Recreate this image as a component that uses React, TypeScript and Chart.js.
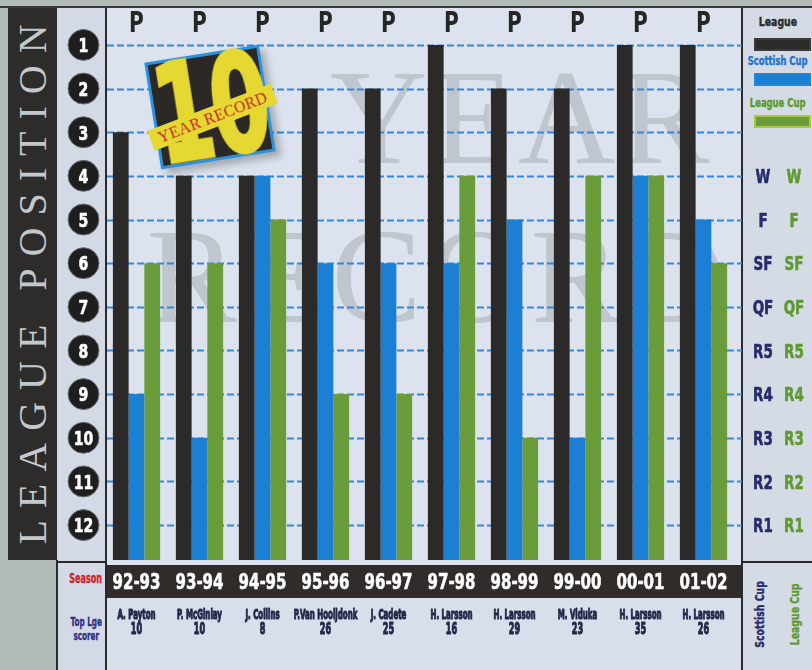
import { useEffect, useRef } from 'react';
import { Chart, registerables } from 'chart.js';

Chart.register(...registerables);

// ---------------- data ----------------
const SEASONS = ['92-93', '93-94', '94-95', '95-96', '96-97', '97-98', '98-99', '99-00', '00-01', '01-02'];
const DIVISION_MARKS = ['P', 'P', 'P', 'P', 'P', 'P', 'P', 'P', 'P', 'P'];
const LEAGUE_POSITION = [3, 4, 4, 2, 2, 1, 2, 2, 1, 1];
const POSITION_TICKS = [1, 2, 3, 4, 5, 6, 7, 8, 9, 10, 11, 12];
const CUP_ROUNDS = ['W', 'F', 'SF', 'QF', 'R5', 'R4', 'R3', 'R2', 'R1'];
const SCOTTISH_CUP = ['R4', 'R3', 'W', 'SF', 'SF', 'SF', 'F', 'R3', 'W', 'F'];
const LEAGUE_CUP = ['SF', 'SF', 'F', 'R4', 'R4', 'W', 'R3', 'W', 'W', 'SF'];
const TOP_SCORERS = ['A. Payton', 'P. McGinlay', 'J. Collins', 'P.Van Hooijdonk', 'J. Cadete', 'H. Larsson', 'H. Larsson', 'M. Viduka', 'H. Larsson', 'H. Larsson'];
const TOP_SCORER_GOALS = [10, 10, 8, 26, 25, 16, 29, 23, 35, 26];

// position row on which the cup "W" row sits
const FIRST_ROUND_ROW = 4;
const AXIS_TOP = 0.75;
const AXIS_BOTTOM = 12.8;

const roundRow = (r: string) => CUP_ROUNDS.indexOf(r) + FIRST_ROUND_ROW;

// ---------------- style ----------------
const COND = "'DejaVu Sans Condensed', 'DejaVu Sans', sans-serif";
const SERIF = "'Liberation Serif', 'DejaVu Serif', serif";
const LEAGUE_COLOR = '#2b2a29';
const SCOTTISH_COLOR = '#1b7fd3';
const LEAGUE_CUP_COLOR = '#6a9c3b';
const NAVY = '#262b6b';
const GREEN_TEXT = '#5e9a2f';
const OUTER = '#b2bdb8';
const GRID_BLUE = '#2f8ae0';

function drawCond(
  ctx: any,
  text: string,
  x: number,
  baseline: number,
  size: number,
  color: string,
  sx: number,
  stroke = 0,
) {
  ctx.save();
  ctx.translate(x, baseline);
  ctx.scale(sx, 1);
  ctx.font = `bold ${size}px ${COND}`;
  ctx.fillStyle = color;
  ctx.textAlign = 'center';
  ctx.textBaseline = 'alphabetic';
  ctx.fillText(text, 0, 0);
  if (stroke > 0) {
    ctx.strokeStyle = color;
    ctx.lineWidth = stroke;
    ctx.lineJoin = 'round';
    ctx.strokeText(text, 0, 0);
  }
  ctx.restore();
}

// dashed position rules across the whole plot box
const rulesPlugin = {
  id: 'positionRules',
  beforeDatasetsDraw(chart: any) {
    const { ctx, chartArea } = chart;
    const s = chart.scales.y;
    ctx.save();
    ctx.strokeStyle = GRID_BLUE;
    ctx.lineWidth = 1.8;
    ctx.setLineDash([7, 3]);
    POSITION_TICKS.forEach((p) => {
      const y = Math.round(s.getPixelForValue(p)) + 0.5;
      ctx.beginPath();
      ctx.moveTo(chartArea.left + 2, y);
      ctx.lineTo(chartArea.right + 7, y);
      ctx.stroke();
    });
    ctx.restore();
  },
};

// condensed axis labels, placed with the chart's own scales
const labelsPlugin = {
  id: 'condensedLabels',
  afterDraw(chart: any) {
    const ctx = chart.ctx;
    const { x, xScorer, xTop, y, yScottish, yLeagueCup } = chart.scales;

    // league position discs + numbers
    const cx = (y.left + y.right) / 2 + 2.5;
    POSITION_TICKS.forEach((p) => {
      const cy = y.getPixelForValue(p);
      ctx.save();
      ctx.beginPath();
      ctx.arc(cx, cy, 15.5, 0, Math.PI * 2);
      ctx.fillStyle = '#1f1e1e';
      ctx.fill();
      ctx.lineWidth = 1;
      ctx.strokeStyle = '#6d7078';
      ctx.stroke();
      ctx.restore();
      drawCond(ctx, String(p), cx, cy + 7.3, 20, '#ffffff', 0.78, 0.6);
    });

    // cup rounds
    CUP_ROUNDS.forEach((r, i) => {
      const cy = yScottish.getPixelForValue(i + FIRST_ROUND_ROW);
      drawCond(ctx, r, yScottish.left + 28, cy + 7.3, 20, NAVY, 0.75, 0.6);
      const cy2 = yLeagueCup.getPixelForValue(i + FIRST_ROUND_ROW);
      drawCond(ctx, r, yLeagueCup.left + 15, cy2 + 7.3, 20, GREEN_TEXT, 0.75, 0.6);
    });

    SEASONS.forEach((s, i) => {
      drawCond(ctx, s, x.getPixelForValue(i), x.top + 29, 22, '#ffffff', 0.76, 0.6);
    });
    DIVISION_MARKS.forEach((m, i) => {
      drawCond(ctx, m, xTop.getPixelForValue(i), xTop.bottom - 2, 28, '#262626', 0.8);
    });
    TOP_SCORERS.forEach((n, i) => {
      const px = xScorer.getPixelForValue(i);
      drawCond(ctx, n, px, xScorer.top + 20.5, 14, '#23284a', 0.56, 1.1);
      drawCond(ctx, String(TOP_SCORER_GOALS[i]), px, xScorer.top + 35.5, 15, '#23284a', 0.6, 1.1);
    });
  },
};

const hiddenGrid = { display: false, drawTicks: false };
const hiddenTicks = { display: false };

function buildConfig(): any {
  return {
    type: 'bar',
    data: {
      labels: SEASONS,
      datasets: [
        {
          label: 'League',
          data: LEAGUE_POSITION.map((p) => [p, AXIS_BOTTOM]),
          backgroundColor: LEAGUE_COLOR,
          xAxisID: 'x',
          yAxisID: 'y',
        },
        {
          label: 'Scottish Cup',
          data: SCOTTISH_CUP.map((r) => [roundRow(r), AXIS_BOTTOM]),
          backgroundColor: SCOTTISH_COLOR,
          xAxisID: 'x',
          yAxisID: 'y',
        },
        {
          label: 'League Cup',
          data: LEAGUE_CUP.map((r) => [roundRow(r), AXIS_BOTTOM]),
          backgroundColor: LEAGUE_CUP_COLOR,
          xAxisID: 'x',
          yAxisID: 'y',
        },
      ],
    },
    options: {
      responsive: false,
      animation: false,
      layout: { padding: 0 },
      datasets: { bar: { barPercentage: 1, categoryPercentage: 0.75, borderWidth: 0 } },
      plugins: { legend: { display: false }, tooltip: { enabled: false } },
      scales: {
        x: {
          type: 'category',
          position: 'bottom',
          weight: 1,
          offset: true,
          grid: hiddenGrid,
          border: { display: false },
          ticks: hiddenTicks,
          afterFit: (a: any) => {
            a.height = 38;
          },
        },
        xScorer: {
          type: 'category',
          position: 'bottom',
          weight: 2,
          offset: true,
          labels: TOP_SCORERS,
          grid: hiddenGrid,
          border: { display: false },
          ticks: hiddenTicks,
          afterFit: (a: any) => {
            a.height = 72;
          },
        },
        xTop: {
          type: 'category',
          position: 'top',
          weight: 1,
          offset: true,
          labels: DIVISION_MARKS,
          grid: hiddenGrid,
          border: { display: false },
          ticks: hiddenTicks,
          afterFit: (a: any) => {
            a.height = 34;
          },
        },
        y: {
          type: 'linear',
          position: 'left',
          reverse: true,
          min: AXIS_TOP,
          max: AXIS_BOTTOM,
          afterBuildTicks: (a: any) => {
            a.ticks = POSITION_TICKS.map((v) => ({ value: v }));
          },
          grid: hiddenGrid,
          border: { display: false },
          ticks: hiddenTicks,
          afterFit: (a: any) => {
            a.width = 48;
          },
        },
        yScottish: {
          type: 'linear',
          position: 'right',
          weight: 1,
          reverse: true,
          min: AXIS_TOP,
          max: AXIS_BOTTOM,
          afterBuildTicks: (a: any) => {
            a.ticks = CUP_ROUNDS.map((_r, i) => ({ value: i + FIRST_ROUND_ROW }));
          },
          grid: hiddenGrid,
          border: { display: false },
          ticks: hiddenTicks,
          afterFit: (a: any) => {
            a.width = 44;
          },
        },
        yLeagueCup: {
          type: 'linear',
          position: 'right',
          weight: 2,
          reverse: true,
          min: AXIS_TOP,
          max: AXIS_BOTTOM,
          afterBuildTicks: (a: any) => {
            a.ticks = CUP_ROUNDS.map((_r, i) => ({ value: i + FIRST_ROUND_ROW }));
          },
          grid: hiddenGrid,
          border: { display: false },
          ticks: hiddenTicks,
          afterFit: (a: any) => {
            a.width = 33;
          },
        },
      },
    },
    plugins: [rulesPlugin, labelsPlugin],
  };
}

const abs = (l: number, t: number, w: number, h: number, extra: any = {}) => ({
  position: 'absolute' as const,
  left: l,
  top: t,
  width: w,
  height: h,
  ...extra,
});

function CondText(props: {
  x: number;
  y: number;
  w: number;
  h: number;
  size: number;
  color: string;
  sx: number;
  rotate?: boolean;
  children: any;
}) {
  const { x, y, w, h, size, color, sx, rotate, children } = props;
  return (
    <div
      style={abs(x, y, w, h, {
        display: 'flex',
        alignItems: 'center',
        justifyContent: 'center',
        transform: rotate ? 'rotate(-90deg)' : undefined,
      })}
    >
      <span
        style={{
          display: 'inline-block',
          flexShrink: 0,
          transform: `scaleX(${sx})`,
          font: `bold ${size}px ${COND}`,
          color,
          whiteSpace: 'nowrap',
          lineHeight: 1.05,
          textAlign: 'center',
          WebkitTextStroke: `0.4px ${color}`,
        }}
      >
        {children}
      </span>
    </div>
  );
}

export default function App() {
  const ref = useRef<HTMLCanvasElement>(null);

  useEffect(() => {
    const chart = new Chart(ref.current as HTMLCanvasElement, buildConfig());
    return () => chart.destroy();
  }, []);

  const swatch = (top: number, color: string, border: string) => (
    <div style={abs(754, top, 57, 13, { background: color, boxSizing: 'border-box', border: `2px solid ${border}` })} />
  );

  return (
    <div style={abs(0, 0, 812, 670, { overflow: 'hidden', background: OUTER, fontFamily: COND })}>
      {/* left dark band with title */}
      <div style={abs(8, 8, 49, 552, { background: '#2e2c2b' })} />
      <div
        style={abs(8 + 24.5 - 276, 8 + 276 - 24.5, 552, 49, {
          transform: 'rotate(-90deg)',
          textAlign: 'center',
          lineHeight: '49px',
          font: `40px ${SERIF}`,
          letterSpacing: 12,
          paddingLeft: 12,
          boxSizing: 'border-box',
          color: '#c3c8cd',
          whiteSpace: 'nowrap',
        })}
      >
        LEAGUE POSITION
      </div>

      {/* number column */}
      <div style={abs(57, 8, 49, 662, { background: '#d4dae5' })} />
      <CondText x={61} y={571} w={50} h={14} size={14} color="#d0242c" sx={0.64}>
        Season
      </CondText>
      <CondText x={61} y={614} w={50} h={30} size={13} color="#2a2f86" sx={0.62}>
        Top Lge
        <br />
        scorer
      </CondText>

      {/* plot background with watermark */}
      <div style={abs(107, 8, 635, 557, { background: '#dde3ee', overflow: 'hidden' })}>
        <div
          style={abs(223, 40, 420, 140, {
            font: `135px ${SERIF}`,
            lineHeight: '140px',
            letterSpacing: 4,
            color: 'rgba(120,122,126,0.28)',
            whiteSpace: 'nowrap',
          })}
        >
          YEAR
        </div>
        <div
          style={abs(40, 199, 600, 140, {
            font: `135px ${SERIF}`,
            lineHeight: '140px',
            letterSpacing: 6,
            color: 'rgba(120,122,126,0.28)',
            whiteSpace: 'nowrap',
          })}
        >
          RECORD
        </div>
      </div>

      {/* season band and scorer row */}
      <div style={abs(107, 565, 635, 33, { background: '#302c2a' })} />
      <div style={abs(107, 598, 635, 72, { background: '#d9dfea' })} />

      {/* right column */}
      <div style={abs(742, 8, 70, 662, { background: '#d5dbe5' })} />
      <CondText x={744} y={14} w={68} h={16} size={13} color="#2a2a2a" sx={0.8}>
        League
      </CondText>
      {swatch(38, LEAGUE_COLOR, '#3a3a3a')}
      <CondText x={744} y={53} w={68} h={16} size={13} color="#1c72cc" sx={0.72}>
        Scottish Cup
      </CondText>
      {swatch(73, SCOTTISH_COLOR, '#1f86dc')}
      <CondText x={744} y={95} w={68} h={16} size={13} color="#5a9a2a" sx={0.72}>
        League Cup
      </CondText>
      {swatch(115, LEAGUE_CUP_COLOR, '#a9c93f')}
      <CondText x={760 - 45} y={614 - 8} w={90} h={16} size={13} color={NAVY} sx={0.8} rotate>
        Scottish Cup
      </CondText>
      <CondText x={795 - 45} y={614 - 8} w={90} h={16} size={13} color={GREEN_TEXT} sx={0.8} rotate>
        League Cup
      </CondText>

      {/* rules */}
      <div style={abs(0, 6, 812, 2, { background: '#3a3a3a' })} />
      <div style={abs(105, 8, 2, 662, { background: '#2a2a2a' })} />
      <div style={abs(741, 8, 2, 662, { background: '#2a2a2a' })} />
      <div style={abs(57, 561, 49, 2, { background: '#2a2a2a' })} />
      <div style={abs(742, 561, 70, 2, { background: '#2a2a2a' })} />
      <div style={abs(56, 560, 1.5, 110, { background: '#2a2a2a' })} />

      {/* chart */}
      <canvas ref={ref} width={755} height={670} style={abs(57, 0, 755, 670)} />

      {/* 10 year record badge */}
      <div
        style={abs(152, 53, 116, 108, {
          background: '#2b2826',
          border: '3px solid #2a90e0',
          boxSizing: 'border-box',
          transform: 'rotate(-9deg)',
          boxShadow: '5px 6px 7px rgba(0,0,0,0.25)',
        })}
      >
        <div
          style={abs(-3, -20, 116, 146, {
            overflow: 'hidden',
            display: 'flex',
            justifyContent: 'center',
          })}
        >
          <span
            style={{
              display: 'inline-block',
              flexShrink: 0,
              transform: 'scaleX(0.68)',
              font: `bold 138px ${COND}`,
              lineHeight: '146px',
              letterSpacing: -3,
              color: '#e6d832',
              WebkitTextStroke: '3px #e6d832',
              whiteSpace: 'nowrap',
            }}
          >
            10
          </span>
        </div>
        <div
          style={abs(-10, 51, 132, 21, {
            background: '#e6d832',
            transform: 'rotate(-12deg)',
            color: '#c4202a',
            font: `16px ${SERIF}`,
            letterSpacing: 0.3,
            textAlign: 'center',
            lineHeight: '21px',
            whiteSpace: 'nowrap',
          })}
        >
          YEAR RECORD
        </div>
      </div>
    </div>
  );
}
